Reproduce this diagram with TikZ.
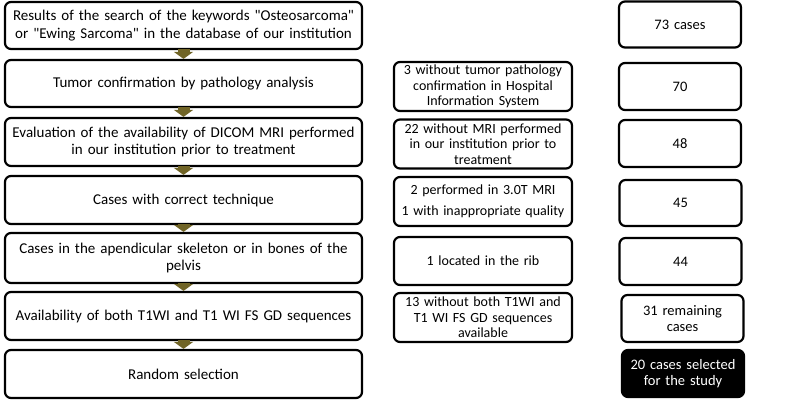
\documentclass[tikz,border=0pt]{standalone}
\usepackage{fontspec}
\setmainfont{Carlito}
\usepackage{tikz}
\usetikzlibrary{arrows.meta}

\definecolor{arrowolive}{RGB}{112,100,38}

\begin{document}
\begin{tikzpicture}[x=1pt, y=-1pt,
        stepbox/.style={draw, line width=2.2pt, rounded corners=6pt, fill=white, align=center,
            inner sep=2pt, font=\fontsize{15}{17.5}\selectfont},
        mainbox/.style={stepbox, minimum width=357pt, text width=352pt, minimum height=48pt},
        lossbox/.style={stepbox, minimum width=176pt, text width=174pt, minimum height=48pt,
            font=\fontsize{14}{15.5}\selectfont},
        countbox/.style={stepbox, minimum width=121pt, text width=118pt, minimum height=46pt,
            font=\fontsize{14.5}{16.5}\selectfont},
        finalbox/.style={countbox, fill=black, text=white},
        flowarrow/.style={draw=arrowolive, line width=12pt, -{Triangle[width=19pt, length=7pt]}, arrowolive}]
        \useasboundingbox (0,0) rectangle (800,401);

        % Main steps (left column)
        \node[mainbox, minimum height=47pt] (search) at (183.5,25.5) {Results of the search of the keywords \textquotedbl Osteosarcoma\textquotedbl\\ or \textquotedbl Ewing Sarcoma\textquotedbl\ in the database of our institution};
        \node[mainbox, minimum height=47pt] (patho) at (183.5,83.5) {Tumor confirmation by pathology analysis};
        \node[mainbox] (dicom) at (183.5,142) {Evaluation of the availability of DICOM MRI performed\\ in our institution prior to treatment};
        \node[mainbox] (tech) at (183.5,200) {Cases with correct technique};
        \node[mainbox, minimum height=50pt] (skel) at (183.5,258) {Cases in the apendicular skeleton or in bones of the\\ pelvis};
        \node[mainbox] (seq) at (183.5,316) {Availability of both T1WI and T1 WI FS GD sequences};
        \node[mainbox] (random) at (183.5,374) {Random selection};

        % Excluded cases (middle column)
        \node[lossbox, minimum height=49pt] (nopatho) at (483,86.5) {3 without tumor pathology\\ confirmation in Hospital\\ Information System};
        \node[lossbox, minimum height=49pt] (nomri) at (483,144) {22 without MRI performed\\ in our institution prior to\\ treatment};
        \node[lossbox, minimum height=49pt] (badtech) at (483,201.5) {2 performed in 3.0T MRI\\[5pt] 1 with inappropriate quality};
        \node[lossbox] (rib) at (483,261) {1 located in the rib};
        \node[lossbox, minimum height=49pt] (noseq) at (483,317.5) {13 without both T1WI and\\ T1 WI FS GD sequences\\ available};

        % Remaining cases (right column)
        \node[countbox] (n73) at (680,24.5) {73 cases};
        \node[countbox, minimum height=47pt] (n70) at (680,86.5) {70};
        \node[countbox, minimum height=47pt] (n48) at (680,143.5) {48};
        \node[countbox] (n45) at (680.5,203) {45};
        \node[countbox, minimum height=47pt] (n44) at (680.5,261.5) {44};
        \node[countbox, minimum height=47pt] (n31) at (682.5,318.5) {31 remaining\\ cases};
        \node[finalbox, minimum height=47pt] (n20) at (683,373.5) {20 cases selected\\ for the study};

        % Arrows between the steps
        \foreach \a/\b in {search/patho, patho/dicom, dicom/tech, tech/skel, skel/seq, seq/random}
            \draw[flowarrow] ([yshift=1pt]\a.south) -- (\b.north);
    \end{tikzpicture}
\end{document}
